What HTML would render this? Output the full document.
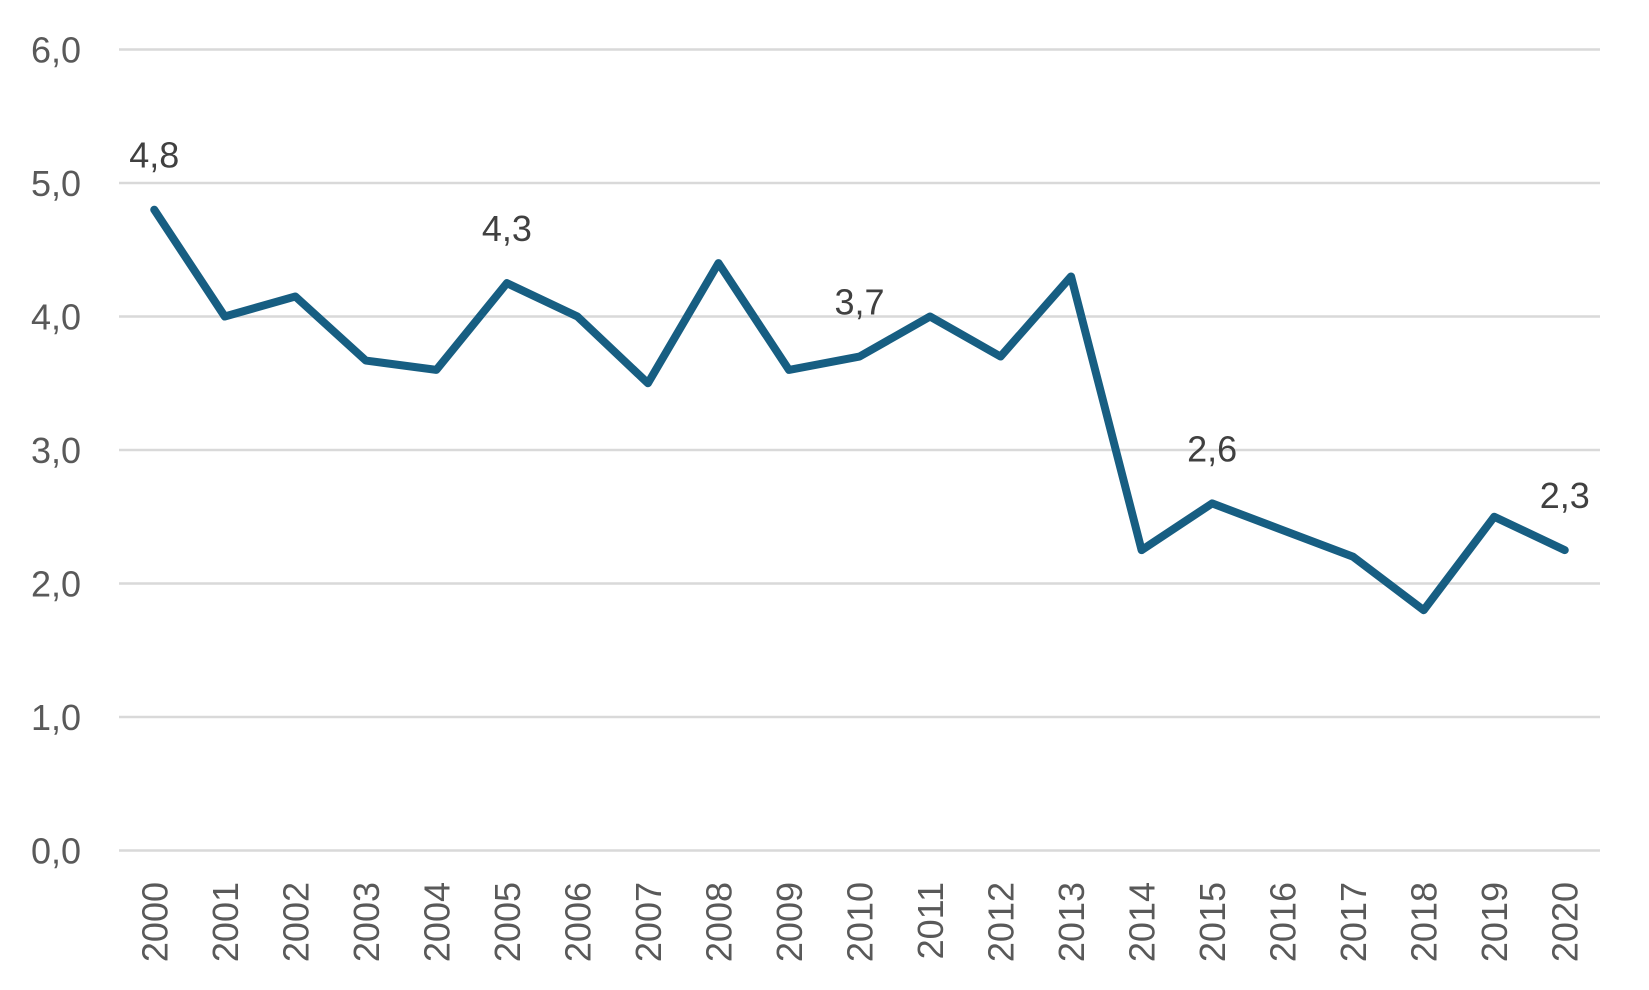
<!DOCTYPE html>
<html><head><meta charset="utf-8"><style>
body{margin:0;background:#fff}
svg{display:block;font-family:"Liberation Sans",sans-serif}
</style></head><body>
<svg id="chart" width="1649" height="990" viewBox="0 0 1649 990" xmlns="http://www.w3.org/2000/svg"></svg>
<script>
const years=["2000","2001","2002","2003","2004","2005","2006","2007","2008","2009","2010","2011","2012","2013","2014","2015","2016","2017","2018","2019","2020"];
const values=[4.8,4.0,4.15,3.67,3.6,4.25,4.0,3.5,4.4,3.6,3.7,4.0,3.7,4.3,2.25,2.6,2.4,2.2,1.8,2.5,2.25];
const labelIdx=[0,5,10,15,20];
const labelText=["4,8","4,3","3,7","2,6","2,3"];
const yTicks=[0,1,2,3,4,5,6];
const yTickLabels=["0,0","1,0","2,0","3,0","4,0","5,0","6,0"];
const svg=document.getElementById('chart');
const NS='http://www.w3.org/2000/svg';
const L=119,R=1600,T=49.5,B=850.5,ymax=6;
const step=(R-L)/years.length;
const x=i=>L+step*(i+0.5);
const y=v=>B-(v/ymax)*(B-T);
function mk(t,a){const e=document.createElementNS(NS,t);for(const k in a)e.setAttribute(k,a[k]);svg.appendChild(e);return e;}
yTicks.forEach((v,i)=>{
  const g=mk('line',{x1:L,x2:R,y1:y(v),y2:y(v),stroke:'#d9d9d9','stroke-width':2.5});
  
  
  const t=mk('text',{x:81,y:y(v)+13,'text-anchor':'end','font-size':36,fill:'#595959'});
  t.textContent=yTickLabels[i];
  
  
});
years.forEach((yr,i)=>{
  const t=mk('text',{transform:`translate(${x(i)+13},${882}) rotate(-90)`,'text-anchor':'end','font-size':36,fill:'#595959'});
  t.textContent=yr;
  
  
});
const p=mk('polyline',{points:values.map((v,i)=>x(i)+','+y(v)).join(' '),fill:'none',stroke:'#175e82','stroke-width':8,'stroke-linejoin':'round','stroke-linecap':'round'});


labelIdx.forEach((idx,k)=>{
  const t=mk('text',{x:x(idx),y:y(values[idx])-42,'text-anchor':'middle','font-size':36,fill:'#404040'});
  t.textContent=labelText[k];
  
  
});
</script>
</body></html>
